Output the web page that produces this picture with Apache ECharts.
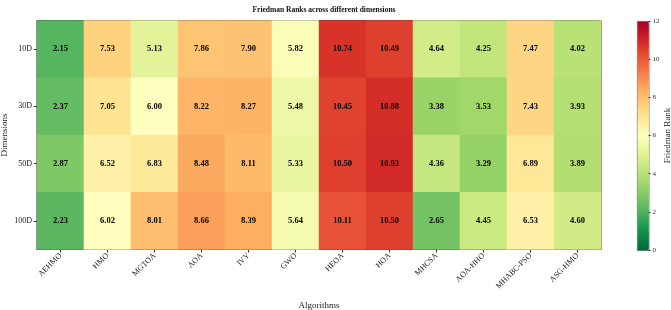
<!DOCTYPE html>
<html>
<head>
<meta charset="utf-8">
<script src="https://cdn.jsdelivr.net/npm/echarts@6/dist/echarts.min.js"></script>
<style>
  html, body { margin: 0; padding: 0; background: #fff; }
  #main { width: 671px; height: 310px; }
</style>
</head>
<body>
<div id="main"></div>
<script>
const algorithms = ['AEHMO', 'HMO', 'MGTOA', 'AOA', 'IVY', 'GWO', 'HEOA', 'HOA', 'MHCSA', 'AOA-HHO', 'MHABC-PSO', 'ASG-HMO'];
const dimensions = ['10D', '30D', '50D', '100D'];
const rank10D = [2.15, 7.53, 5.13, 7.86, 7.90, 5.82, 10.74, 10.49, 4.64, 4.25, 7.47, 4.02];
const rank30D = [2.37, 7.05, 6.00, 8.22, 8.27, 5.48, 10.45, 10.88, 3.38, 3.53, 7.43, 3.93];
const rank50D = [2.87, 6.52, 6.83, 8.48, 8.11, 5.33, 10.50, 10.93, 4.36, 3.29, 6.89, 3.89];
const rank100D = [2.23, 6.02, 8.01, 8.66, 8.39, 5.64, 10.11, 10.50, 2.65, 4.45, 6.53, 4.60];
const rankMin = 0;
const rankMax = 12;
const rankStep = 2;

const rows = [rank10D, rank30D, rank50D, rank100D];
const cells = [];
rows.forEach((row, j) => {
  row.forEach((v, i) => {
    cells.push([i, j, v]);
  });
});

// RdYlGn reversed
const cmap = ['#006837', '#1a9850', '#66bd63', '#a6d96a', '#d9ef8b', '#ffffbf',
  '#fee08b', '#fdae61', '#f46d43', '#d73027', '#a50026'];

const serif = 'Liberation Serif';
const chart = echarts.init(document.getElementById('main'));
chart.setOption({
  animation: false,
  textStyle: { fontFamily: serif },
  title: {
    text: 'Friedman Ranks across different dimensions',
    left: 319,
    textAlign: 'center',
    top: 1,
    textStyle: { fontFamily: serif, fontSize: 7.5, fontWeight: 'bold', color: '#111' },
  },
  grid: [
    { left: 37, right: 70, top: 20.5, bottom: 60.5, outerBoundsMode: 'none', containLabel: false,
      show: true, borderColor: '#333', borderWidth: 1 },
    { left: 637, width: 11.5, top: 21, height: 229, outerBoundsMode: 'none', containLabel: false },
  ],
  xAxis: [
    {
      type: 'category',
      data: algorithms,
      gridIndex: 0,
      name: 'Algorithms',
      nameLocation: 'middle',
      nameGap: 52,
      nameTextStyle: { fontFamily: serif, fontSize: 9, color: '#222' },
      axisLine: { show: true, lineStyle: { color: '#333', width: 1 } },
      axisTick: { show: true, alignWithLabel: true, length: 3, lineStyle: { color: '#333' } },
      axisLabel: { rotate: 45, fontFamily: serif, fontSize: 8, color: '#222', margin: 5 },
      splitLine: { show: false },
    },
    { type: 'category', data: [''], gridIndex: 1, show: false },
  ],
  yAxis: [
    {
      type: 'category',
      data: dimensions,
      inverse: true,
      gridIndex: 0,
      name: 'Dimensions',
      nameLocation: 'middle',
      nameGap: 28,
      nameMoveOverlap: false,
      nameTextStyle: { fontFamily: serif, fontSize: 9, color: '#222' },
      axisLine: { show: true, lineStyle: { color: '#333', width: 1 } },
      axisTick: { show: true, alignWithLabel: true, length: 3, lineStyle: { color: '#333' } },
      axisLabel: { fontFamily: serif, fontSize: 8, color: '#222', margin: 5 },
      splitLine: { show: false },
    },
    {
      type: 'value',
      gridIndex: 1,
      position: 'right',
      z: 20,
      min: rankMin,
      max: rankMax,
      interval: rankStep,
      name: 'Friedman Rank',
      nameLocation: 'middle',
      nameRotate: 90,
      nameGap: 14,
      nameTextStyle: { fontFamily: serif, fontSize: 9, color: '#222' },
      axisLine: { show: false },
      axisTick: { show: true, length: 2, lineStyle: { color: '#333' } },
      axisLabel: { show: true, fontFamily: serif, fontSize: 7, color: '#333', margin: 4 },
      splitLine: { show: false },
    },
  ],
  visualMap: {
    type: 'continuous',
    min: rankMin,
    max: rankMax,
    dimension: 2,
    seriesIndex: 0,
    calculable: false,
    hoverLink: false,
    orient: 'vertical',
    left: 637,
    top: 21,
    z: 1,
    itemWidth: 11.5,
    itemHeight: 229,
    padding: 0,
    text: null,
    showLabel: false,
    borderColor: '#333',
    borderWidth: 0.8,
    inRange: { color: cmap },
  },
  series: [
    {
      type: 'heatmap',
      xAxisIndex: 0,
      yAxisIndex: 0,
      data: cells,
      label: {
        show: true,
        fontFamily: serif,
        fontSize: 8.5,
        fontWeight: 'bold',
        color: '#000',
        formatter: p => p.value[2].toFixed(2),
      },
      itemStyle: { borderWidth: 0 },
      emphasis: { disabled: true },
    },
  ],
});
</script>
</body>
</html>
